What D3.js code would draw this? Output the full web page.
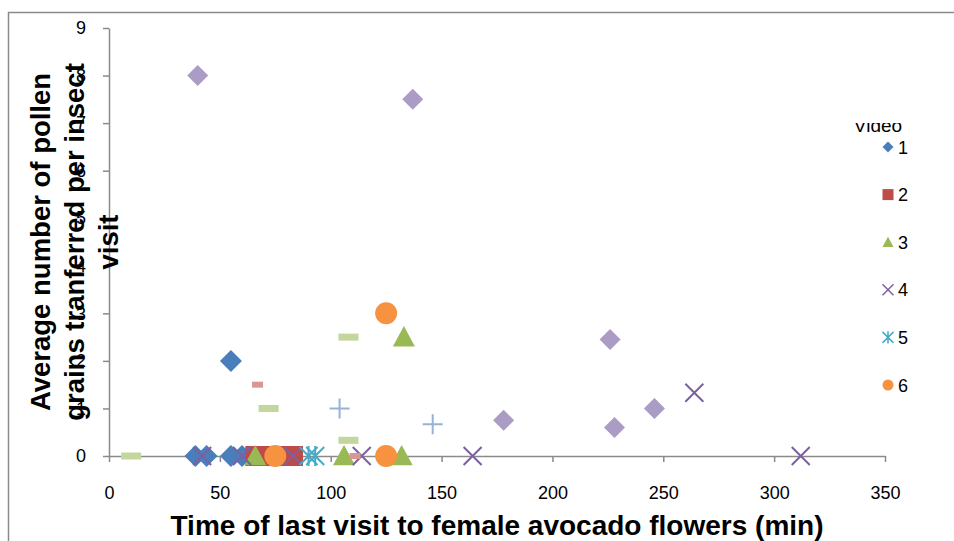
<!DOCTYPE html>
<html>
<head>
<meta charset="utf-8">
<script src="https://cdn.jsdelivr.net/npm/d3@7"></script>
<style>
  body { margin: 0; background: #fff; }
  text { font-family: "Liberation Sans", Arial, sans-serif; }
</style>
</head>
<body>
<div id="scatter"></div>
<script>
// data: [minutes, pollen grains]
var video1 = [[39, 0], [44, 0], [55, 0], [60, 0], [55, 2]];
var video2 = [[66, 0], [70, 0], [75, 0], [80, 0], [83, 0]];
var video3 = [[66, 0], [106, 0], [132, 0], [133, 2.5]];
var video4 = [[42, 0], [60, 0], [83, 0], [114, 0], [164, 0], [264, 1.33], [312, 0]];
var video5 = [[90, 0], [93, 0]];
var video6 = [[75, 0], [125, 0], [125, 3]];
// series beyond the visible legend
var video7 = [[104, 1], [146, 0.67]];
var video8 = [[67, 1.5], [111, 0]];
var video9 = [[10, 0], [72, 1], [108, 2.5], [108, 0.33]];
var video10 = [[40, 8], [137, 7.5], [178, 0.75], [226, 2.45], [228, 0.6], [246, 1]];

var seriesNames = ["1", "2", "3", "4", "5", "6", "7", "8", "9", "10"];
var legendNames = ["1", "2", "3", "4", "5", "6"];
var xTicks = [0, 50, 100, 150, 200, 250, 300, 350];
var yTicks = [0, 1, 2, 3, 4, 5, 6, 7, 8, 9];

var svgWidth = 954;
var svgHeight = 541;

var svg = d3.select("#scatter")
    .append("svg")
    .attr("width", svgWidth)
    .attr("height", svgHeight);

// chart area border (runs off the right and bottom)
svg.append("rect")
    .attr("x", 8.5)
    .attr("y", 12.5)
    .attr("width", 1000)
    .attr("height", 600)
    .attr("fill", "none")
    .attr("stroke", "#8a8a8a")
    .attr("stroke-width", 1.5);

var xScale = d3.scaleLinear().domain([0, 350]).range([109, 885]);
var yScale = d3.scaleLinear().domain([0, 9]).range([456, 28]);

// marker shapes, r = half size
var shapes = {
  diamond: r => `M0,${-r}L${r},0L0,${r}L${-r},0Z`,
  square: r => `M${-r},${-r}H${r}V${r}H${-r}Z`,
  triangle: r => `M0,${-r}L${r},${r * 0.85}L${-r},${r * 0.85}Z`,
  circle: r => d3.symbol(d3.symbolCircle, Math.PI * r * r)(),
  cross: r => `M${-r},${-r}L${r},${r}M${-r},${r}L${r},${-r}`,
  star: r => `M${-r},${-r}L${r},${r}M${-r},${r}L${r},${-r}M0,${-r * 1.1}V${r * 1.1}`,
  plus: r => `M${-r},0H${r}M0,${-r}V${r}`,
  dash: r => `M${-r},-3H${r}V3H${-r}Z`,
  longdash: r => `M${-r},-3.5H${r}V3.5H${-r}Z`
};

var series = [
  { name: seriesNames[0], data: video1, shape: "diamond", color: "#4a7ebb", r: 11, fill: true },
  { name: seriesNames[1], data: video2, shape: "square", color: "#be4b48", r: 10, fill: true },
  { name: seriesNames[2], data: video3, shape: "triangle", color: "#98b954", r: 11, fill: true },
  { name: seriesNames[3], data: video4, shape: "cross", color: "#7d60a0", r: 9, fill: false },
  { name: seriesNames[4], data: video5, shape: "star", color: "#46aac5", r: 9, fill: false },
  { name: seriesNames[5], data: video6, shape: "circle", color: "#f69240", r: 11, fill: true },
  { name: seriesNames[6], data: video7, shape: "plus", color: "#95b3d7", r: 10, fill: false },
  { name: seriesNames[7], data: video8, shape: "dash", color: "#d99694", r: 5.5, fill: true },
  { name: seriesNames[8], data: video9, shape: "longdash", color: "#c3d69b", r: 10, fill: true },
  { name: seriesNames[9], data: video10, shape: "diamond", color: "#aa9cc4", r: 10.5, fill: true }
];

// axes
var bottomAxis = d3.axisBottom(xScale)
    .tickValues(xTicks)
    .tickSize(6)
    .tickSizeOuter(0)
    .tickPadding(24);

var leftAxis = d3.axisLeft(yScale)
    .tickValues(yTicks)
    .tickSize(6)
    .tickSizeOuter(0)
    .tickPadding(17);

var xAxisG = svg.append("g")
    .attr("transform", `translate(0, ${yScale(0)})`)
    .call(bottomAxis);

var yAxisG = svg.append("g")
    .attr("transform", `translate(${xScale(0)}, 0)`)
    .call(leftAxis);

[xAxisG, yAxisG].forEach(function(g) {
  g.select(".domain").attr("stroke", "#8a8a8a").attr("stroke-width", 1.5);
  g.selectAll(".tick line").attr("stroke", "#8a8a8a").attr("stroke-width", 1.5);
  g.selectAll(".tick text")
    .attr("fill", "#000")
    .attr("font-size", "18px")
    .attr("font-family", "Liberation Sans, Arial, sans-serif");
});

// points
series.forEach(function(s) {
  svg.append("g")
    .selectAll("path")
    .data(s.data)
    .enter()
    .append("path")
    .attr("transform", d => `translate(${xScale(d[0])}, ${yScale(d[1])})`)
    .attr("d", shapes[s.shape](s.r))
    .attr("fill", s.fill ? s.color : "none")
    .attr("stroke", s.color)
    .attr("stroke-width", s.fill ? 0 : 2);
});

// axis titles
svg.append("text")
    .attr("x", (xScale(0) + xScale(350)) / 2)
    .attr("y", 535)
    .attr("text-anchor", "middle")
    .attr("font-size", "28px")
    .attr("font-weight", "700")
    .attr("fill", "#000")
    .text("Time of last visit to female avocado flowers (min)");

var yTitle = ["Average number of pollen", "grains tranferred per insect", "visit"];
var yTitleX = [50, 84, 118];

svg.selectAll(".ytitle")
    .data(yTitle)
    .enter()
    .append("text")
    .attr("class", "ytitle")
    .attr("transform", (d, i) => `translate(${yTitleX[i]}, 242) rotate(-90)`)
    .attr("text-anchor", "middle")
    .attr("font-size", "27.5px")
    .attr("font-weight", "700")
    .attr("fill", "#000")
    .text(d => d);

// legend, its title is cut off at the top
svg.append("clipPath")
    .attr("id", "legendClip")
    .append("rect")
    .attr("x", 820)
    .attr("y", 123)
    .attr("width", 134)
    .attr("height", 300);

var legend = svg.append("g").attr("clip-path", "url(#legendClip)");

legend.append("text")
    .attr("x", 878)
    .attr("y", 132)
    .attr("text-anchor", "middle")
    .attr("font-size", "19px")
    .attr("fill", "#000")
    .text("Video");

var legendScale = d3.scalePoint()
    .domain(legendNames)
    .range([147, 385]);

legendNames.forEach(function(name, i) {
  var s = series[i];
  var cy = legendScale(name);
  legend.append("path")
    .attr("transform", `translate(888, ${cy})`)
    .attr("d", shapes[s.shape](5.5))
    .attr("fill", s.fill ? s.color : "none")
    .attr("stroke", s.color)
    .attr("stroke-width", s.fill ? 0 : 1.5);
  legend.append("text")
    .attr("x", 898)
    .attr("y", cy + 6.5)
    .attr("font-size", "18px")
    .attr("fill", "#000")
    .text(name);
});
</script>
</body>
</html>
